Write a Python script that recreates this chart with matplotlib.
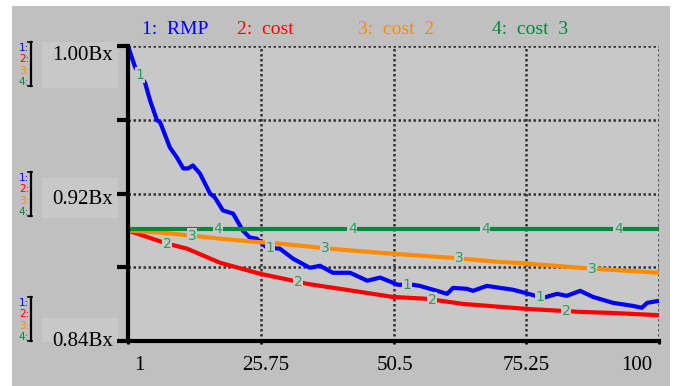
import matplotlib.pyplot as plt
import numpy as np
from matplotlib.patches import Rectangle
from matplotlib.lines import Line2D

# data (x = time 1..100, y in B)
rmp_x = [1, 2.3, 4.2, 5.1, 6.4, 7.0, 8.8, 10.1, 11.3, 12.2, 13.1, 14.4, 16.3, 17.2,
         18.7, 20.6, 22.4, 23.7, 25.0, 26.9, 29.3, 31.8, 34.9, 36.8, 39.2, 42.4,
         45.6, 48.0, 49.8, 51.3, 54.1, 55.4, 57.3, 60.5, 61.6, 64.2, 65.3, 67.9,
         70.4, 72.8, 75.0, 78.4, 81.0, 82.8, 85.3, 87.7, 91.4, 95.2, 96.8, 97.8, 100]
rmp_y = [1.000, 0.9887, 0.9799, 0.9706, 0.9597, 0.9586, 0.9450, 0.9396, 0.9336,
         0.9336, 0.9352, 0.9309, 0.9200, 0.9178, 0.9108, 0.9091, 0.8999, 0.8961,
         0.8955, 0.8906, 0.8901, 0.8846, 0.8797, 0.8808, 0.8770, 0.8770, 0.8727,
         0.8744, 0.8723, 0.8705, 0.8705, 0.8699, 0.8683, 0.8656, 0.8688, 0.8683,
         0.8672, 0.8699, 0.8688, 0.8678, 0.8661, 0.8634, 0.8656, 0.8645, 0.8672,
         0.8639, 0.8607, 0.8590, 0.8580, 0.8607, 0.8618]

cost_x = [1, 8.3, 12.0, 18.2, 25.6, 31.8, 34.4, 43.0, 50.4, 56.7, 63.5, 75.4, 85.3, 91.4, 100]
cost_y = [0.8999, 0.8928, 0.8901, 0.8824, 0.8765, 0.8727, 0.8710, 0.8672, 0.8639,
          0.8629, 0.8601, 0.8574, 0.8558, 0.8552, 0.8540]

cost2_x = [1, 7.0, 13.1, 18.2, 24.3, 29.3, 36.8, 43.0, 50.4, 61.0, 69.8, 75.9, 85.3, 94.0, 100]
cost2_y = [0.8999, 0.8988, 0.8971, 0.8955, 0.8939, 0.8928, 0.8906, 0.8890, 0.8873,
           0.8852, 0.8830, 0.8819, 0.8797, 0.8781, 0.8770]

cost3_x = [1, 100]
cost3_y = [0.901, 0.901]

names = ['1:  RMP', '2:  cost', '3:  cost  2', '4:  cost  3']
colors = ['#0000ff', '#ff0000', '#ff8c00', '#008a3a']
label_x = [[3.24, 27.5, 53.0, 77.8],
           [8.27, 32.7, 57.7, 82.7],
           [12.9, 37.7, 62.7, 87.5],
           [17.8, 42.8, 67.6, 92.4]]

xtick_vals = [1, 25.75, 50.5, 75.25, 100]
xtick_labels = ['1', '25.75', '50.5', '75.25', '100']
ytick_labels = ['1.00Bx', '0.92Bx', '0.84Bx']

W, H = 677, 386
fig = plt.figure(figsize=(W / 100, H / 100), dpi=100, facecolor='white')

def fx(px):
    return px / W

def fy(py):
    return 1 - py / H

# outer panel and lighter label boxes
fig.patches.append(Rectangle((fx(12), 0), fx(658), fy(6), transform=fig.transFigure,
                             facecolor='#c0c0c0', edgecolor='none', zorder=-10))
for top, bot in [(42, 88), (178, 218), (318, 342)]:
    fig.patches.append(Rectangle((fx(42), fy(bot)), fx(76), (bot - top) / H,
                                 transform=fig.transFigure, facecolor='#c8c8c8',
                                 edgecolor='none', zorder=-9))

ax = fig.add_axes([fx(128), fy(341), fx(531), (341 - 46) / H])
ax.set_zorder(2)
ax.set_facecolor('#c8c8c8')
ax.set_xlim(1, 100)
ax.set_ylim(0.84, 1.00)

series = [(rmp_x, rmp_y), (cost_x, cost_y), (cost2_x, cost2_y), (cost3_x, cost3_y)]
for (xs, ys), c in zip(series, colors):
    ax.plot(xs, ys, color=c, lw=3, solid_capstyle='butt', zorder=3, clip_on=False)

# numbers along the curves
for i, ((xs, ys), lx) in enumerate(zip(series, label_x)):
    for x in lx:
        y = np.interp(x, xs, ys)
        ax.text(x, y, str(i + 1), color='#2e9b5a', fontsize=10, ha='center', va='center',
                family='DejaVu Sans', zorder=4,
                bbox=dict(facecolor='#c8c8c8', edgecolor='none', pad=0.5))

# grid
for v in [0.88, 0.92, 0.96, 1.00]:
    ax.axhline(v, color='#333333', lw=1.8, ls=(0, (1, 1)), zorder=2)
for v in xtick_vals[1:]:
    ax.axvline(v, color='#333333', lw=1.8, ls=(0, (1, 1)), zorder=2)

for s in ['top', 'right']:
    ax.spines[s].set_visible(False)
for s in ['left', 'bottom']:
    ax.spines[s].set_linewidth(3)
    ax.spines[s].set_zorder(5)
ax.set_yticks([0.84, 0.88, 0.92, 0.96, 1.00])
ax.set_yticklabels([])
ax.tick_params(axis='y', length=8, width=3, direction='out')
ax.set_xticks(xtick_vals)
ax.set_xticklabels([])
ax.tick_params(axis='x', length=2, width=2, direction='out')

# x tick labels
serif = 'Liberation Serif'
for v, t, dx, ha in zip(xtick_vals, xtick_labels, [6, 5, 1, 0, -7],
                        ['left', 'center', 'center', 'center', 'right']):
    px = 128 + (v - 1) / 99 * 531 + dx
    fig.text(fx(px), fy(366), t, family=serif, fontsize=15, ha=ha, va='center')

# y tick labels
for t, py in zip(ytick_labels, [55, 200, 342]):
    fig.text(fx(113), fy(py), t, family=serif, fontsize=15, ha='right', va='center')

# left scale legends
for top in [42, 172, 297]:
    for k, c in enumerate(colors):
        fig.text(fx(29), fy(top + 6 + k * 11.3), '%d:' % (k + 1), color=c, fontsize=7.5,
                 family='DejaVu Sans', ha='right', va='center')
    fig.lines.append(Line2D([fx(31), fx(31)], [fy(top), fy(top + 44)], color='black',
                            lw=1.6, transform=fig.transFigure))
    for yy in [top, top + 44]:
        fig.lines.append(Line2D([fx(28), fx(31.5)], [fy(yy), fy(yy)], color='black',
                                lw=1.2, transform=fig.transFigure))

# series titles
for name, c, px in zip(names, colors, [142, 237, 358, 492]):
    fig.text(fx(px), fy(30), name, color=c, family=serif, fontsize=14, ha='left', va='center')

fig.savefig('out.png', dpi=100, facecolor='white')
